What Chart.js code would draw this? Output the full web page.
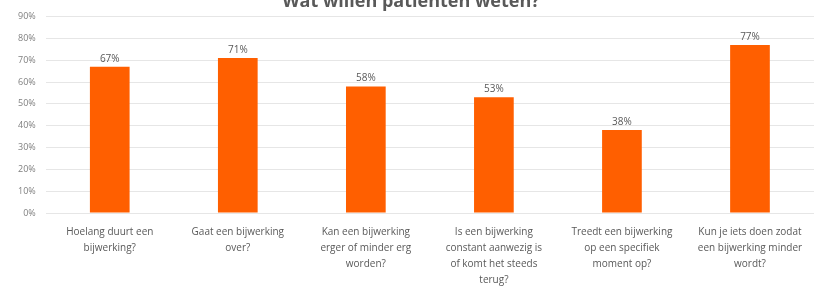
<!DOCTYPE html>
<html><head><meta charset="utf-8">
<script src="https://cdn.jsdelivr.net/npm/chart.js@4/dist/chart.umd.min.js"></script>
<style>
html,body{margin:0;padding:0;background:#fff;overflow:hidden;}
#wrap{position:relative;width:816px;height:303px;margin-top:-9px;}
</style></head>
<body><div id="wrap"><canvas id="c"></canvas></div>
<script>
const titleText = "Wat willen patiënten weten?";
const categories = [
  ["Hoelang duurt een", "bijwerking?"],
  ["Gaat een bijwerking", "over?"],
  ["Kan een bijwerking", "erger of minder erg", "worden?"],
  ["Is een bijwerking", "constant aanwezig is", "of komt het steeds", "terug?"],
  ["Treedt een bijwerking", "op een specifiek", "moment op?"],
  ["Kun je iets doen zodat", "een bijwerking minder", "wordt?"]
];
const values = [67, 71, 58, 53, 38, 77];
const yTicks = [0, 10, 20, 30, 40, 50, 60, 70, 80, 90];

const labelPlugin = {
  id: 'valueLabels',
  afterDatasetsDraw(chart) {
    const ctx = chart.ctx;
    const meta = chart.getDatasetMeta(0);
    ctx.save();
    ctx.font = '10px "Open Sans"';
    ctx.fillStyle = '#595959';
    ctx.textAlign = 'center';
    ctx.textBaseline = 'bottom';
    meta.data.forEach((el, i) => {
      ctx.fillText(values[i] + '%', el.x, el.y - 3);
    });
    ctx.restore();
  }
};

new Chart(document.getElementById('c'), {
  type: 'bar',
  data: {
    labels: categories,
    datasets: [{
      data: values,
      backgroundColor: '#FF5F00',
      borderWidth: 0,
      barPercentage: 0.31,
      categoryPercentage: 1
    }]
  },
  options: {
    responsive: true,
    maintainAspectRatio: false,
    animation: false,
    layout: { padding: { left: 8, right: 2, top: 0, bottom: 3 } },
    plugins: {
      legend: { display: false },
      tooltip: { enabled: false },
      title: {
        display: true,
        text: titleText,
        color: '#595959',
        font: { family: '"Open Sans"', size: 18, weight: 'bold' },
        padding: { top: 0, bottom: 4 }
      }
    },
    scales: {
      y: {
        min: 0, max: 90,
        afterBuildTicks(axis) { axis.ticks = yTicks.map(v => ({ value: v })); },
        border: { display: false },
        grid: { color: '#e6e6e6', drawTicks: false },
        ticks: {
          color: '#7f7f7f',
          font: { family: '"Open Sans"', size: 9 },
          padding: 10,
          callback: v => v + '%'
        }
      },
      x: {
        border: { display: false },
        grid: { display: false },
        ticks: {
          color: '#595959',
          font: { family: '"Open Sans"', size: 10, lineHeight: 1.6 },
          maxRotation: 0,
          autoSkip: false,
          padding: 3
        }
      }
    }
  },
  plugins: [labelPlugin]
});
</script></body></html>
